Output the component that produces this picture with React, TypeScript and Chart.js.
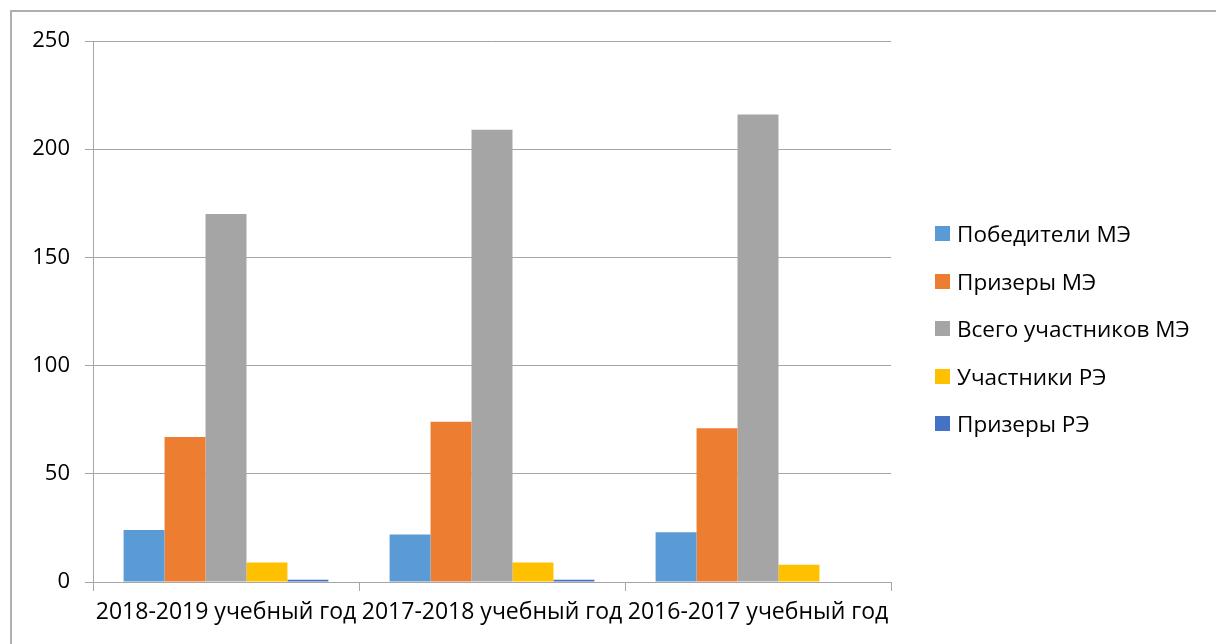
import React, { useEffect, useRef } from "react";
import { Chart, registerables } from "chart.js";

Chart.register(...registerables);

const categories = ["2018-2019 учебный год", "2017-2018 учебный год", "2016-2017 учебный год"];
const seriesNames = ["Победители МЭ", "Призеры МЭ", "Всего участников МЭ", "Участники РЭ", "Призеры РЭ"];
const winnersME = [24, 22, 23];
const prizeME = [67, 74, 71];
const totalME = [170, 209, 216];
const participantsRE = [9, 9, 8];
const prizeRE = [1, 1, 0];
const colors = ["#5B9BD5", "#ED7D31", "#A5A5A5", "#FFC000", "#4472C4"];
const yTicks = [0, 50, 100, 150, 200, 250];

const FONT = "'Open Sans', sans-serif";

export default function App() {
  const ref = useRef<HTMLCanvasElement | null>(null);
  useEffect(() => {
    if (!ref.current) return;
    const values = [winnersME, prizeME, totalME, participantsRE, prizeRE];
    const chart = new Chart(ref.current, {
      type: "bar",
      data: {
        labels: categories,
        datasets: seriesNames.map((n, i) => ({
          label: n,
          data: values[i],
          backgroundColor: colors[i],
          borderWidth: 0,
          categoryPercentage: 0.77,
          barPercentage: 1,
        })),
      },
      options: {
        animation: false,
        responsive: false,
        maintainAspectRatio: false,
        devicePixelRatio: 1,
        layout: { padding: { left: 0, right: 325, top: 41, bottom: 0 } },
        plugins: { legend: { display: false }, tooltip: { enabled: false } },
        scales: {
          x: {
            offset: true,
            grid: { display: true, drawOnChartArea: false, drawTicks: true, tickLength: 9, color: "#a6a6a6", offset: true },
            border: { display: true, color: "#a6a6a6" },
            ticks: { color: "#000", font: { family: FONT, size: 23 }, padding: 8, maxRotation: 0, autoSkip: false },
            afterFit: (s: any) => { s.height = 62; },
          },
          y: {
            min: 0,
            max: 250,
            afterBuildTicks: (s: any) => { s.ticks = yTicks.map((v) => ({ value: v })); },
            grid: { color: "#a6a6a6", tickLength: 8 },
            border: { display: true, color: "#a6a6a6" },
            ticks: { color: "#000", font: { family: FONT, size: 22 }, padding: 15 },
            afterFit: (s: any) => { s.width = 93; },
          },
        },
      },
    });
    return () => chart.destroy();
  }, []);

  return (
    <div style={{ position: "absolute", left: 0, top: 0, width: 1216, height: 644, background: "#fff", overflow: "hidden" }}>
      <div style={{ position: "absolute", left: 10, top: 10, width: 1300, height: 800, border: "2px solid #b0b0b0", boxSizing: "border-box" }} />
      <canvas ref={ref} width={1216} height={644} style={{ position: "absolute", left: 0, top: 0, width: 1216, height: 644 }} />
      <div style={{ position: "absolute", left: 935, top: 210, fontFamily: FONT, fontSize: 22.5, color: "#000" }}>
        {seriesNames.map((n, i) => (
          <div key={n} style={{ height: 47.5, display: "flex", alignItems: "center", whiteSpace: "nowrap" }}>
            <span style={{ display: "inline-block", width: 15, height: 15, background: colors[i], marginRight: 7 }} />
            <span>{n}</span>
          </div>
        ))}
      </div>
    </div>
  );
}
